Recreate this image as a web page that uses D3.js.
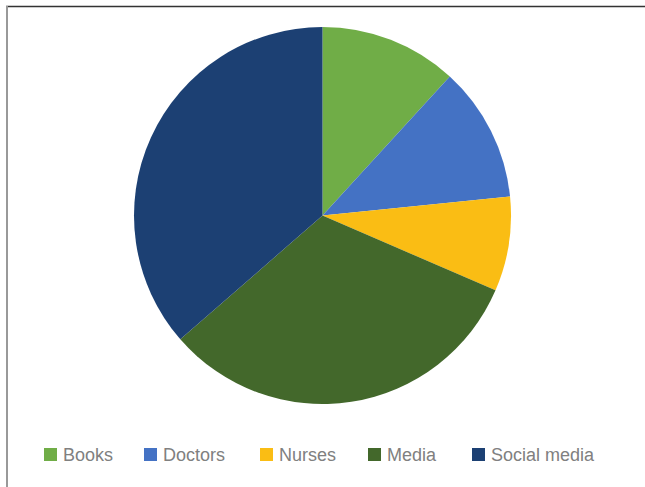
<!DOCTYPE html>
<html>
<head>
<meta charset="utf-8">
<script src="https://cdn.jsdelivr.net/npm/d3@7"></script>
<style>
  body { margin: 0; background: #fff; }
  svg { display: block; }
</style>
</head>
<body>
<script>
var width = 645;
var height = 487;

// values (percent shares)
var categories = ["Books", "Doctors", "Nurses", "Media", "Social media"];
var values = [11.8, 11.6, 8.1, 32.1, 36.4];
var colors = ["#70ad47", "#4472c4", "#fabd14", "#43682b", "#1c4073"];

// legend positions for each entry (x of swatch)
var legendX = [44, 144, 260, 368, 472];

var svg = d3.select("body").append("svg")
  .attr("width", width)
  .attr("height", height);

// frame: only the top and left edges are visible
svg.append("line")
  .attr("x1", 6).attr("y1", 6.5).attr("x2", width).attr("y2", 6.5)
  .attr("stroke", "#333").attr("stroke-width", 1.5);
svg.append("line")
  .attr("x1", 7).attr("y1", 6).attr("x2", 7).attr("y2", height)
  .attr("stroke", "#999").attr("stroke-width", 2);

var color = d3.scaleOrdinal().domain(categories).range(colors);

var pie = d3.pie()
  .sort(null)
  .value(function(d) { return d.value; });

var data = categories.map(function(c, i) { return {name: c, value: values[i]}; });

var arc = d3.arc().innerRadius(0).outerRadius(188.5);

var g = svg.append("g")
  .attr("transform", "translate(322.5,215.5)");

g.selectAll("path")
  .data(pie(data))
  .enter().append("path")
    .attr("d", arc)
    .attr("fill", function(d) { return color(d.data.name); });

var legend = svg.append("g").attr("class", "legend");

var item = legend.selectAll("g")
  .data(categories)
  .enter().append("g")
    .attr("transform", function(d, i) { return "translate(" + legendX[i] + ",448)"; });

item.append("rect")
  .attr("width", 13)
  .attr("height", 13)
  .attr("fill", function(d) { return color(d); });

item.append("text")
  .attr("x", 19)
  .attr("y", 13)
  .attr("font-family", "Liberation Sans, Arial, sans-serif")
  .attr("font-size", 18)
  .attr("fill", "#808080")
  .text(function(d) { return d; });
</script>
</body>
</html>
